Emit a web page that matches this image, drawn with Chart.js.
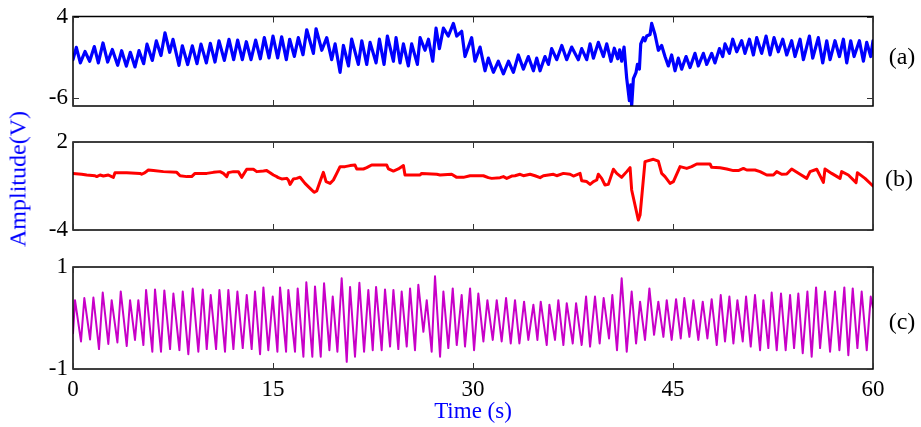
<!DOCTYPE html>
<html>
<head>
<meta charset="utf-8">
<script src="https://cdn.jsdelivr.net/npm/chart.js@4.4.1/dist/chart.umd.min.js"></script>
<style>
  body { margin: 0; background: #fff; }
  #wrap { position: relative; width: 921px; height: 427px; font-family: "Liberation Serif", "Times New Roman", serif; }
  #wrap canvas { position: absolute; left: 0; top: 0; }
  .lbl { position: absolute; font-size: 24px; color: #000; transform: translate(-50%, -50%); white-space: nowrap; }
  #ytitle { position: absolute; left: 18px; top: 179px; font-size: 24px; color: #0000ff; white-space: nowrap;
            transform: translate(-50%, -50%) rotate(-90deg); }
</style>
</head>
<body>
<div id="wrap">
  <canvas id="pa" width="921" height="427"></canvas>
  <canvas id="pb" width="921" height="427"></canvas>
  <canvas id="pc" width="921" height="427"></canvas>
  <div id="ytitle">Amplitude(V)</div>
  <div class="lbl" style="left:902px; top:56px">(a)</div>
  <div class="lbl" style="left:899px; top:178px">(b)</div>
  <div class="lbl" style="left:902px; top:321px">(c)</div>
</div>
<script>
// ticks on the time axis
const xTickVals = [0, 15, 30, 45, 60];

// (a) signal, time (s) / amplitude (V)
const tA = [0, 0.25, 0.55, 0.9, 1.25, 1.6, 1.9, 2.25, 2.6, 2.95, 3.35, 3.65, 4.0, 4.3, 4.65, 4.95, 5.3, 5.55, 5.95, 6.25,
  6.6, 6.9, 7.25, 7.5, 7.95, 8.2, 8.6, 8.95, 9.3, 9.6, 10.0, 10.3, 10.65, 10.95, 11.35, 11.7, 12.05, 12.35, 12.7, 13.0,
  13.35, 13.7, 14.05, 14.35, 14.7, 15.0, 15.35, 15.65, 16.0, 16.25, 16.6, 16.9, 17.25, 17.53, 18.03, 18.23, 18.66, 19.03, 19.4, 19.66,
  20.03, 20.28, 20.66, 20.9, 21.4, 21.66, 22.03, 22.28, 22.73, 22.98, 23.33, 23.58, 24.03, 24.23, 24.53, 24.78, 25.15, 25.4, 25.83, 26.03,
  26.4, 26.66, 26.98, 27.23, 27.48, 27.78, 28.15, 28.53, 28.78, 29.15, 29.4, 29.9, 30.15, 30.53, 30.9, 31.15, 31.53, 31.9, 32.28, 32.66,
  33.03, 33.4, 33.78, 34.15, 34.53, 34.78, 35.03, 35.4, 35.66, 35.9, 36.28, 36.66, 37.03, 37.4, 37.9, 38.15, 38.53, 38.78, 39.03, 39.4,
  39.78, 40.03, 40.35, 40.6, 40.85, 41.0, 41.15, 41.33, 41.53, 41.73, 41.83, 41.9, 42.03, 42.23, 42.33, 42.48, 42.58, 42.78, 42.9, 43.03,
  43.28, 43.4, 43.65, 43.9, 44.15, 44.4, 44.65, 44.9, 45.15, 45.4, 45.65, 45.98, 46.28, 46.65, 46.9, 47.28, 47.53, 47.9, 48.15, 48.48,
  48.73, 48.9, 49.23, 49.48, 49.78, 50.15, 50.4, 50.73, 51.03, 51.28, 51.65, 51.98, 52.28, 52.58, 52.9, 53.23, 53.53, 53.9, 54.15, 54.53,
  54.78, 55.23, 55.48, 55.9, 56.23, 56.53, 56.78, 57.15, 57.48, 57.78, 58.03, 58.33, 58.58, 58.98, 59.28, 59.53, 59.83, 60.0];
const vA = [-1.3, 0.2, -1.7, -0.3, -1.5, 0.3, -1.7, 0.75, -1.6, -0.05, -2.0, -0.2, -2.1, -0.4, -2.2, -0.2, -1.8, 0.6, -1.4, 1.0,
  -0.8, 2.0, -0.4, 1.2, -2.0, 0.4, -1.9, 0.4, -1.8, 0.6, -1.7, 0.7, -1.6, 1.0, -1.4, 1.2, -1.3, 1.1, -1.3, 0.9,
  -1.3, 1.1, -1.2, 1.4, -1.1, 1.6, -1.1, 1.5, -1.3, 1.2, -0.9, 1.4, -0.7, 2.37, -0.53, 2.49, -0.15, 1.4, -1.31, 0.63,
  -2.86, 0.44, -2.08, 1.21, -1.89, 1.02, -1.89, 0.82, -1.7, 1.21, -1.89, 1.6, -1.5, 1.4, -1.7, 0.63, -2.08, 0.63, -1.89, 1.4,
  -0.15, 1.21, -1.5, 2.57, 0.05, 2.57, 1.6, 3.15, 1.6, 2.18, -0.92, 1.4, -1.5, 0.24, -2.67, -1.12, -2.86, -1.5, -3.05, -1.5,
  -2.86, -0.73, -2.47, -0.92, -2.67, -1.12, -2.67, -0.92, -1.89, 0.05, -1.31, 0.44, -1.31, 0.24, -1.31, 0.05, -1.31, 0.63, -1.12, 0.82,
  -0.92, 0.63, -1.5, 0.1, -1.2, -0.1, -1.5, 0.24, -3.63, -6.35, -4.41, -7.0, -3.63, -2.86, -1.89, -2.47, 0.63, 1.4, 1.02, 1.6,
  1.79, 3.15, 1.79, -0.15, 0.44, -0.92, -2.08, -0.73, -2.67, -1.12, -2.47, -0.92, -2.28, -0.53, -2.08, -0.53, -1.89, -0.53, -1.7, 0.05,
  -0.92, 0.63, -0.53, 1.21, -0.34, 1.02, -0.53, 1.21, -0.73, 1.4, -0.53, 1.6, -0.73, 1.4, -0.34, 1.21, -0.73, 1.02, -0.92, 1.21,
  -1.31, 1.6, -1.12, 1.4, -1.7, 1.02, -1.31, 1.02, -0.92, 1.21, -1.7, 1.02, -0.92, 1.02, -1.5, 0.82, -0.92, 1.02];

// (b) signal
const tB = [0, 0.65, 1.03, 1.65, 1.78, 2.03, 2.28, 2.65, 2.9, 3.03, 3.15, 4.03, 5.03, 5.15, 5.4, 5.65, 6.03, 6.78, 7.78, 8.03,
  8.53, 8.9, 9.15, 10.03, 10.53, 11.03, 11.28, 11.53, 11.65, 12.03, 12.4, 12.65, 13.03, 13.53, 13.78, 14.28, 14.53, 14.78, 15.03, 15.28,
  15.4, 15.65, 16.03, 16.15, 16.28, 16.53, 16.78, 17.03, 17.4, 17.78, 18.08, 18.28, 18.53, 18.78, 18.98, 19.28, 19.53, 19.78, 20.03, 20.4,
  20.78, 21.15, 21.28, 21.78, 22.03, 22.4, 23.53, 23.66, 24.03, 24.4, 24.78, 24.9, 26.03, 26.15, 27.28, 27.53, 28.4, 28.78, 29.28, 29.78,
  30.78, 31.15, 31.4, 32.03, 32.28, 32.53, 32.9, 33.15, 33.53, 33.78, 34.28, 34.65, 35.03, 35.28, 36.03, 36.28, 36.78, 37.28, 37.53, 38.03,
  38.15, 38.53, 38.78, 39.03, 39.28, 39.4, 39.65, 39.9, 40.15, 40.53, 40.78, 41.15, 41.53, 41.78, 41.9, 42.4, 42.53, 42.9, 43.53, 43.9,
  44.15, 44.4, 44.78, 45.03, 45.53, 46.03, 46.4, 46.78, 47.78, 47.9, 48.53, 49.03, 49.53, 49.9, 50.28, 50.53, 51.15, 51.53, 52.03, 52.53,
  52.78, 53.15, 53.53, 53.9, 54.53, 55.03, 55.28, 55.78, 56.28, 56.4, 56.9, 57.53, 57.65, 58.15, 58.73, 58.83, 59.4, 60.0];
const vB = [-0.14, -0.2, -0.25, -0.3, -0.36, -0.25, -0.32, -0.25, -0.36, -0.41, -0.09, -0.09, -0.14, -0.2, -0.09, 0.09, 0.05, -0.02, -0.07, -0.3,
  -0.36, -0.36, -0.14, -0.14, -0.07, -0.02, -0.14, -0.36, -0.09, -0.02, -0.02, -0.41, 0.14, 0.14, -0.02, 0.02, 0.05, -0.09, -0.25, -0.36,
  -0.43, -0.52, -0.48, -0.59, -0.89, -0.52, -0.48, -0.4, -0.82, -1.16, -1.43, -1.34, -0.7, -0.07, -0.7, -0.82, -0.59, -0.14, 0.32, 0.32,
  0.39, 0.43, 0.16, 0.16, 0.25, 0.43, 0.43, 0.16, 0.02, 0.16, 0.39, -0.25, -0.25, -0.14, -0.2, -0.25, -0.2, -0.41, -0.41, -0.3,
  -0.3, -0.43, -0.48, -0.43, -0.36, -0.48, -0.32, -0.3, -0.2, -0.3, -0.2, -0.3, -0.43, -0.3, -0.2, -0.3, -0.14, -0.2, -0.32, -0.14,
  -0.64, -0.7, -0.89, -0.7, -0.59, -0.2, -0.48, -0.93, -0.89, 0.14, -0.14, -0.41, -0.02, 0.25, -1.27, -3.32, -2.98, 0.66, 0.82, 0.7,
  -0.14, -0.36, -0.82, -0.7, 0.32, 0.2, 0.32, 0.5, 0.5, 0.27, 0.25, 0.16, 0.05, 0.05, 0.2, 0.09, 0.09, -0.02, -0.25, -0.25,
  -0.02, -0.2, -0.18, 0.16, -0.2, -0.48, -0.02, 0.14, -0.75, 0.16, -0.14, -0.48, -0.02, -0.25, -0.77, -0.09, -0.48, -1.0];

// (c) signal
const tC = [0, 0.15, 0.6, 0.85, 1.28, 1.53, 1.95, 2.23, 2.65, 2.9, 3.33, 3.58, 4.03, 4.28, 4.65, 4.9, 5.28, 5.48, 5.95, 6.15,
  6.6, 6.85, 7.28, 7.53, 7.98, 8.23, 8.65, 8.98, 9.4, 9.73, 10.03, 10.33, 10.73, 10.98, 11.4, 11.65, 12.03, 12.33, 12.73, 13.03,
  13.4, 13.65, 14.03, 14.28, 14.65, 14.98, 15.33, 15.53, 15.98, 16.15, 16.65, 16.85, 17.28, 17.5, 17.95, 18.15, 18.58, 18.83, 19.23, 19.48,
  19.83, 20.15, 20.53, 20.78, 21.15, 21.48, 21.83, 22.15, 22.48, 22.73, 23.15, 23.4, 23.78, 24.03, 24.4, 24.65, 25.03, 25.28, 25.65, 25.9,
  26.28, 26.53, 26.9, 27.15, 27.53, 27.78, 28.15, 28.48, 28.78, 29.15, 29.4, 29.78, 30.08, 30.4, 30.78, 31.08, 31.48, 31.78, 32.15, 32.48,
  32.83, 33.15, 33.48, 33.83, 34.15, 34.53, 34.83, 35.08, 35.53, 35.73, 36.15, 36.4, 36.78, 37.03, 37.48, 37.73, 38.15, 38.48, 38.78, 39.15,
  39.5, 39.8, 40.2, 40.45, 40.8, 41.15, 41.53, 41.9, 42.23, 42.53, 42.9, 43.23, 43.58, 43.9, 44.28, 44.53, 44.9, 45.23, 45.58, 45.85,
  46.23, 46.53, 46.9, 47.23, 47.58, 47.9, 48.28, 48.58, 48.9, 49.23, 49.53, 49.83, 50.23, 50.48, 50.83, 51.15, 51.53, 51.78, 52.15, 52.4,
  52.78, 53.1, 53.45, 53.78, 54.08, 54.4, 54.73, 55.08, 55.4, 55.73, 56.03, 56.4, 56.78, 57.15, 57.48, 57.85, 58.15, 58.48, 58.83, 59.15,
  59.53, 59.83, 60.0];
const vC = [-0.3, 0.35, -0.46, 0.39, -0.42, 0.4, -0.61, 0.5, -0.51, 0.35, -0.48, 0.52, -0.55, 0.35, -0.43, 0.35, -0.53, 0.55, -0.66, 0.56,
  -0.66, 0.54, -0.61, 0.48, -0.63, 0.52, -0.71, 0.58, -0.66, 0.56, -0.61, 0.45, -0.61, 0.55, -0.66, 0.55, -0.61, 0.52, -0.59, 0.45,
  -0.61, 0.52, -0.71, 0.6, -0.63, 0.42, -0.66, 0.6, -0.66, 0.55, -0.66, 0.58, -0.76, 0.7, -0.76, 0.62, -0.76, 0.68, -0.63, 0.42,
  -0.66, 0.78, -0.86, 0.61, -0.76, 0.69, -0.66, 0.55, -0.63, 0.61, -0.63, 0.56, -0.56, 0.55, -0.61, 0.52, -0.56, 0.58, -0.63, 0.65,
  -0.27, 0.35, -0.66, 0.82, -0.76, 0.52, -0.59, 0.58, -0.53, 0.45, -0.56, 0.58, -0.63, 0.48, -0.46, 0.35, -0.43, 0.35, -0.46, 0.39,
  -0.5, 0.35, -0.5, 0.32, -0.43, 0.26, -0.43, 0.32, -0.53, 0.26, -0.43, 0.35, -0.53, 0.29, -0.5, 0.29, -0.53, 0.42, -0.56, 0.42,
  -0.5, 0.39, -0.4, 0.45, -0.63, 0.78, -0.66, 0.52, -0.5, 0.32, -0.43, 0.58, -0.33, 0.32, -0.37, 0.35, -0.43, 0.37, -0.4, 0.39,
  -0.37, 0.35, -0.43, 0.32, -0.4, 0.37, -0.53, 0.45, -0.46, 0.42, -0.5, 0.35, -0.46, 0.42, -0.56, 0.45, -0.63, 0.35, -0.59, 0.5,
  -0.63, 0.48, -0.63, 0.45, -0.59, 0.48, -0.69, 0.52, -0.76, 0.6, -0.59, 0.52, -0.66, 0.52, -0.63, 0.6, -0.73, 0.58, -0.59, 0.52,
  -0.63, 0.42, 0.2];

const yTicksA = [-6, 4];
const yTicksB = [-4, 2];
const yTicksC = [-1, 1];

const serif = 'Liberation Serif';

// box round the plot area with short inward ticks, like the old MATLAB axes
const frame = {
  id: 'frame',
  afterDatasetsDraw(chart, args, opts) {
    const { ctx, chartArea: a, scales: { x, y } } = chart;
    ctx.save();
    ctx.strokeStyle = '#000';
    ctx.lineWidth = 1.5;
    ctx.strokeRect(a.left, a.top, a.width, a.height);
    ctx.lineWidth = 1;
    ctx.strokeStyle = '#333';
    ctx.beginPath();
    xTickVals.forEach(v => {
      const px = Math.round(x.getPixelForValue(v)) + 0.5;
      ctx.moveTo(px, a.top); ctx.lineTo(px, a.top + 6);
      ctx.moveTo(px, a.bottom); ctx.lineTo(px, a.bottom - 6);
    });
    opts.ticks.forEach(v => {
      const py = Math.round(y.getPixelForValue(v)) + 0.5;
      ctx.moveTo(a.left, py); ctx.lineTo(a.left + 6, py);
      ctx.moveTo(a.right, py); ctx.lineTo(a.right - 6, py);
    });
    ctx.stroke();
    ctx.restore();
  }
};

function panel(id, t, v, color, lw, yMin, yMax, yTicks, pad, showTime) {
  const pts = t.map((tt, i) => ({ x: tt, y: v[i] }));
  return new Chart(document.getElementById(id), {
    type: 'line',
    data: {
      datasets: [{
        data: pts,
        borderColor: color,
        borderWidth: lw,
        pointRadius: 0,
        tension: 0,
        borderJoinStyle: 'round',
        borderCapStyle: 'round'
      }]
    },
    options: {
      responsive: false,
      animation: false,
      devicePixelRatio: 1,
      layout: { padding: pad },
      plugins: {
        legend: { display: false },
        tooltip: { enabled: false },
        frame: { ticks: yTicks }
      },
      scales: {
        x: {
          type: 'linear',
          min: 0,
          max: 60,
          display: showTime,
          afterBuildTicks: s => { s.ticks = xTickVals.map(val => ({ value: val })); },
          afterFit: s => { if (showTime) s.height = 58; },
          grid: { display: false, drawTicks: false },
          border: { display: false },
          ticks: { color: '#000', padding: 9, maxRotation: 0, font: { family: serif, size: 23, lineHeight: 1 } },
          title: {
            display: showTime,
            text: 'Time (s)',
            color: '#0000ff',
            padding: { top: 0, bottom: 4 },
            font: { family: serif, size: 23, lineHeight: 1 }
          }
        },
        y: {
          type: 'linear',
          min: yMin,
          max: yMax,
          afterBuildTicks: s => { s.ticks = yTicks.map(val => ({ value: val })); },
          afterFit: s => { s.width = 73; },
          grid: { display: false, drawTicks: false },
          border: { display: false },
          ticks: { color: '#000', padding: 5, font: { family: serif, size: 23, lineHeight: 1 } }
        }
      }
    },
    plugins: [frame]
  });
}

panel('pa', tA, vA, '#0000ff', 3.2, -7, 4, yTicksA, { top: 10, bottom: 321, left: 0, right: 48 }, false);
panel('pb', tB, vB, '#ff0000', 3, -4, 2, yTicksB, { top: 142, bottom: 197, left: 0, right: 48 }, false);
panel('pc', tC, vC, '#c800c8', 2, -1, 1, yTicksC, { top: 267, bottom: 0, left: 0, right: 48 }, true);
</script>
</body>
</html>
